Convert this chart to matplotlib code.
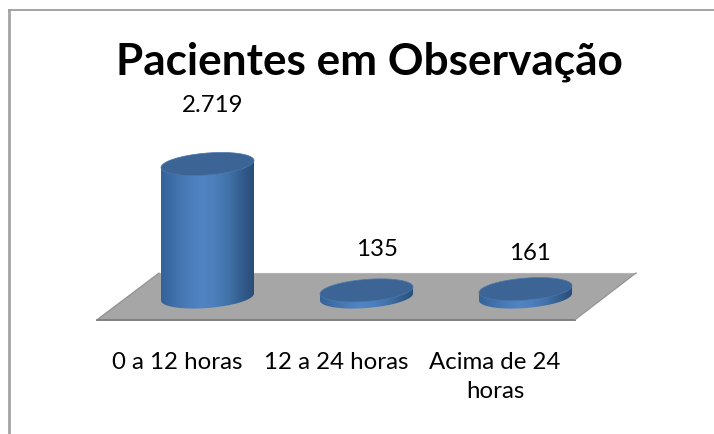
import numpy as np
import matplotlib
matplotlib.use("Agg")
import matplotlib.pyplot as plt
from matplotlib.colors import LinearSegmentedColormap
from matplotlib.patches import Polygon, PathPatch
from matplotlib.path import Path

categories = ["0 a 12 horas", "12 a 24 horas", "Acima de 24\nhoras"]
values = [2719, 135, 161]
value_labels = ["2.719", "135", "161"]
title = "Pacientes em Observação"

W, H = 714, 434
PX_PER_X = 159.0       # px between bars
PX_PER_VAL = 133.0 / 2719
X0_PX, BASE_PX = 207.5, 297.0
A_PX, B_PX, K_PX = 46.5, 11.0, 3.5   # ellipse half width, half height, tilt

plt.rcParams["font.family"] = ["Lato", "DejaVu Sans"]
fig = plt.figure(figsize=(W / 100, H / 100), dpi=100)

# pixel axes for frame, floor and text
bg = fig.add_axes([0, 0, 1, 1])
bg.set_xlim(0, W); bg.set_ylim(H, 0); bg.axis("off")
bg.plot([8.5, 8.5], [10, H], color="#a3a3a3", lw=2.0, solid_capstyle="butt")
bg.plot([8, W], [10.3, 10.3], color="#8c8c8c", lw=1.1, solid_capstyle="butt")
bg.add_patch(Polygon([(159, 273), (636, 273), (575, 319.5), (97, 319.5)],
                     closed=True, fc="#a6a6a6", ec="none"))
bg.plot([97, 575], [319.8, 319.8], color="#7f7f7f", lw=1.4)
bg.plot([159, 636], [272.8, 272.8], color="#b4b4b4", lw=0.8)
bg.plot([97, 159], [319.8, 273], color="#8f8f8f", lw=0.8)
bg.plot([575, 636], [319.8, 273], color="#8f8f8f", lw=0.8)

# data axes: x = category index, y = value
ax = fig.add_axes([0, 0, 1, 1], facecolor="none")
xlim = ((0 - X0_PX) / PX_PER_X, (W - X0_PX) / PX_PER_X)
ylim = ((BASE_PX - H) / PX_PER_VAL, BASE_PX / PX_PER_VAL)
ax.axis("off")

side_cmap = LinearSegmentedColormap.from_list(
    "side", ["#34629a", "#3f70aa", "#4a7cb9", "#5084c3", "#4c7fbc", "#4274ab", "#345f90", "#294d78"])
shade = np.linspace(0, 1, 256).reshape(1, -1)
t = np.linspace(0, 2 * np.pi, 121)
a = A_PX / PX_PER_X
b = B_PX / PX_PER_VAL
k = K_PX / PX_PER_VAL

for i, v in enumerate(values):
    ex = i + a * np.cos(t)
    ey = -b * np.sin(t) + k * np.cos(t)
    # side wall: front half of base, then up to the top
    fx = i + a * np.cos(np.linspace(np.pi, 2 * np.pi, 61))
    u = (fx - i) / a
    sx = np.r_[fx, fx[::-1]]
    sy = np.r_[-b * np.sqrt(np.clip(1 - u ** 2, 0, 1)) + k * u, k * u[::-1] + v]
    verts = np.column_stack([sx, sy])
    im = ax.imshow(shade, cmap=side_cmap, aspect="auto", zorder=2,
                   extent=(i - a, i + a, -3 * b, v + 3 * b))
    clip = PathPatch(Path(np.vstack([verts, verts[0]])), transform=ax.transData, fc="none", ec="none")
    ax.add_patch(clip)
    im.set_clip_path(clip)
    ax.fill(ex, ey + v, color="#3c6595", ec="#4a77ad", lw=0.5, zorder=3)

ax.set_xlim(*xlim); ax.set_ylim(*ylim)

# text
bg.text(369.5, 62, title, fontsize=31.8, fontweight="bold", ha="center", va="center", color="black")
ax.set_zorder(1); bg.set_zorder(0)
for (x, y), s in zip([(212.5, 105), (377, 249), (530, 253)], value_labels):
    bg.text(x, y, s, fontsize=17.3, ha="center", va="center", color="black")
for x, s in zip([177.5, 336.5, 495], categories):
    bg.text(x, 352, s, fontsize=17.3, ha="center", va="top", color="black", linespacing=1.5)

fig.savefig("out.png", dpi=100)
